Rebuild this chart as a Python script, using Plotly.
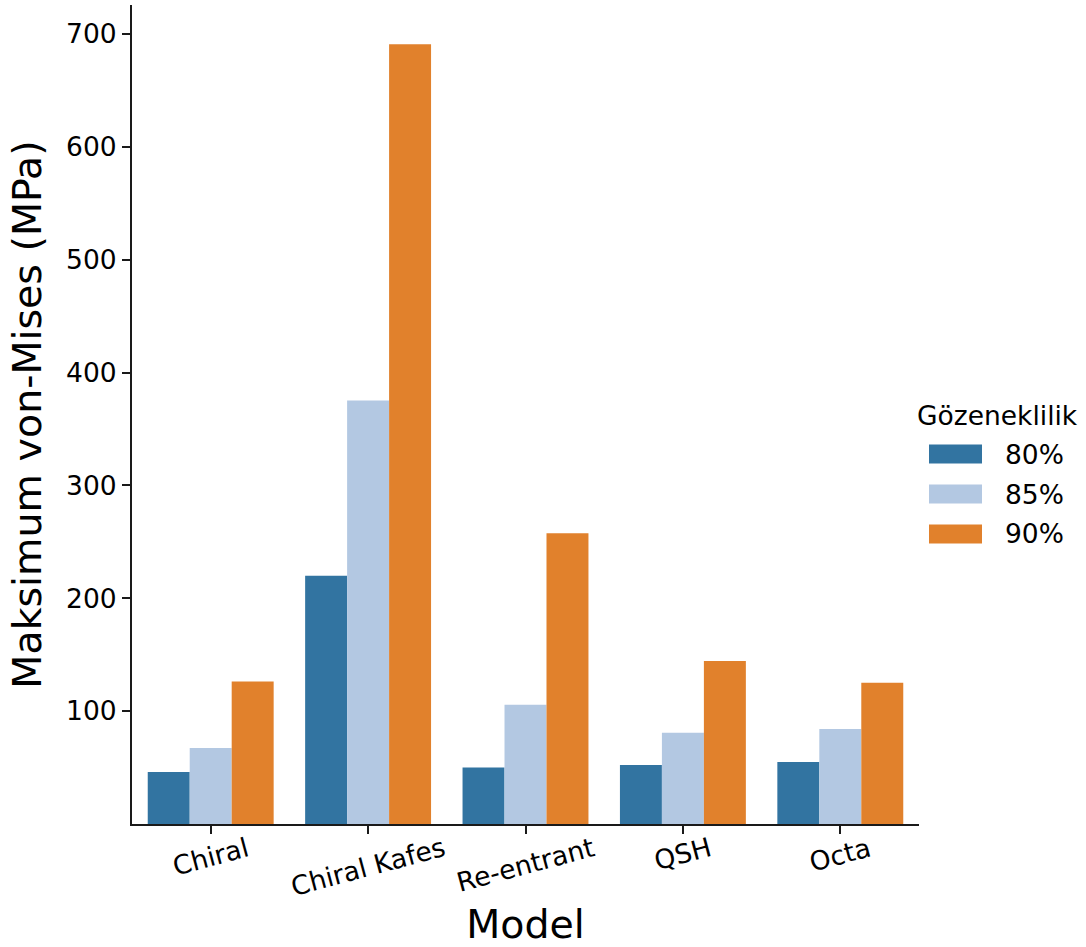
import plotly.graph_objects as go

# Data: maximum von-Mises stress per lattice model and porosity level
models = ["Chiral", "Chiral Kafes", "Re-entrant", "QSH", "Octa"]
porosity_labels = ["80%", "85%", "90%"]
stress_80 = [46.1, 219.9, 50.1, 52.3, 54.9]
stress_85 = [67.3, 375.2, 105.7, 80.9, 84.1]
stress_90 = [126.3, 690.9, 257.7, 144.4, 125.2]
y_ticks = [100, 200, 300, 400, 500, 600, 700]

series = [stress_80, stress_85, stress_90]
colors = ["#3274a1", "#b3c8e2", "#e1812c"]

FONT = "DejaVu Sans"
TICK_SIZE = 26.5
TITLE_SIZE = 39.5
W, H = 1086, 947
M_L, M_R, M_T, M_B = 132, 167, 5, 123

fig = go.Figure()
for label, vals, col in zip(porosity_labels, series, colors):
    fig.add_trace(go.Bar(
        x=models, y=vals, name=label,
        marker=dict(color=col, line=dict(width=0)),
        showlegend=False,
    ))

plot_w = W - M_L - M_R
plot_h = H - M_T - M_B


def px_x(px):
    return (px - M_L) / plot_w


def px_y(py):
    return (H - M_B - py) / plot_h


shapes = []
annotations = []

# Category labels, rotated about their centre and hung below the axis
for name in models:
    annotations.append(dict(
        text=name, xref="x", yref="paper",
        x=name, y=px_y(829), xanchor="center", yanchor="top",
        textangle=-15, showarrow=False,
        font=dict(family=FONT, size=TICK_SIZE, color="#000000"),
    ))

# Legend with wide swatches, right of the plot area
annotations.append(dict(
    text="Gözeneklilik", xref="paper", yref="paper",
    x=px_x(915), y=px_y(415), xanchor="left", yanchor="middle",
    showarrow=False, font=dict(family=FONT, size=TICK_SIZE, color="#000000"),
))
for i, (label, col) in enumerate(zip(porosity_labels, colors)):
    cy = 454 + 40 * i
    shapes.append(dict(
        type="rect", xref="paper", yref="paper",
        x0=px_x(929), x1=px_x(982), y0=px_y(cy + 9.5), y1=px_y(cy - 9.5),
        fillcolor=col, line=dict(width=0),
    ))
    annotations.append(dict(
        text=label, xref="paper", yref="paper",
        x=px_x(1003), y=px_y(cy), xanchor="left", yanchor="middle",
        showarrow=False, font=dict(family=FONT, size=TICK_SIZE, color="#000000"),
    ))

fig.update_layout(
    width=W, height=H,
    margin=dict(l=M_L, r=M_R, t=M_T, b=M_B, autoexpand=False),
    paper_bgcolor="white", plot_bgcolor="white",
    barmode="group", bargap=0.2, bargroupgap=0,
    font=dict(family=FONT, color="#000000"),
    shapes=shapes, annotations=annotations,
    showlegend=False,
)

fig.update_xaxes(
    range=[-0.5, 4.5],
    showline=True, linecolor="#1a1a1a", linewidth=2,
    ticks="outside", ticklen=8, tickwidth=2, tickcolor="#1a1a1a",
    showticklabels=False,
    title=dict(text="Model", font=dict(family=FONT, size=TITLE_SIZE, color="#000000"), standoff=77),
    showgrid=False, zeroline=False,
)
fig.update_yaxes(
    range=[0, 725.7],
    tickvals=y_ticks,
    showline=True, linecolor="#1a1a1a", linewidth=2,
    ticks="outside", ticklen=8, tickwidth=2, tickcolor="#1a1a1a",
    tickfont=dict(family=FONT, size=TICK_SIZE, color="#000000"),
    title=dict(text="Maksimum von-Mises (MPa)", font=dict(family=FONT, size=TITLE_SIZE, color="#000000"), standoff=12),
    showgrid=False, zeroline=False,
)

fig.write_html("out.html")
